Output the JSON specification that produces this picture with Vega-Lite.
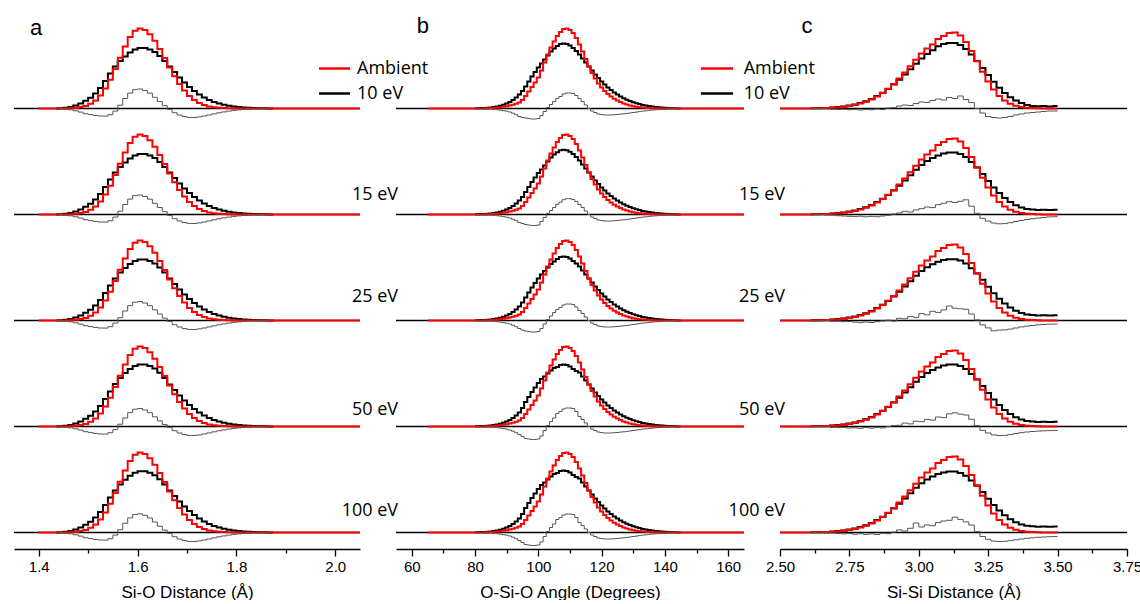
{
"$schema": "https://vega.github.io/schema/vega-lite/v6.json",
"padding": {"left": 13, "top": 14, "right": 0, "bottom": 0},
"background": "white",
"config": {
  "view": {"stroke": null},
  "axis": {"grid": false, "domainColor": "#000", "domainWidth": 1.3, "tickColor": "#000", "tickWidth": 1.3, "labelColor": "#000", "titleColor": "#000", "labelFont": "Liberation Sans", "titleFont": "Liberation Sans", "labelFontSize": 15, "titleFontSize": 17, "titleFontWeight": "normal", "labelPadding": 3, "titlePadding": 10, "labelFlush": false, "labelOverlap": false, "tickSize": 7},
  "text": {"color": "#000"}
},
"datasets": {
"A": [
{"k":"t"},
{"k":"c","x":1.4,"a":0},
{"k":"c","x":1.435,"a":0,"e10":0.1,"e15":0.1,"e25":0.1,"e50":0.1,"e100":0.1},
{"k":"c","x":1.445,"a":0,"e10":0.3,"e15":0.3,"e25":0.3,"e50":0.3,"e100":0.3},
{"k":"c","x":1.455,"a":0.1,"e10":0.8,"e15":0.8,"e25":0.8,"e50":0.8,"e100":0.8},
{"k":"c","x":1.465,"a":0.3,"e10":1.6,"e15":1.6,"e25":1.6,"e50":1.6,"e100":1.6},
{"k":"c","x":1.475,"a":0.7,"e10":3,"e15":3,"e25":3,"e50":3,"e100":3},
{"k":"c","x":1.485,"a":1.4,"e10":5,"e15":5,"e25":5,"e50":5,"e100":5},
{"k":"c","x":1.495,"a":2.6,"e10":7.8,"e15":7.8,"e25":7.8,"e50":7.8,"e100":7.8},
{"k":"c","x":1.505,"a":4.7,"e10":10.8,"e15":10.8,"e25":10.8,"e50":10.8,"e100":10.8},
{"k":"c","x":1.515,"a":8.1,"e10":15,"e15":15,"e25":15,"e50":15,"e100":15},
{"k":"c","x":1.525,"a":13,"e10":20.5,"e15":20.5,"e25":20.5,"e50":20.5,"e100":20.5},
{"k":"c","x":1.535,"a":19.9,"e10":27.5,"e15":27.5,"e25":27.5,"e50":27.5,"e100":27.5},
{"k":"c","x":1.545,"a":28.8,"e10":35,"e15":35,"e25":35,"e50":35,"e100":35},
{"k":"c","x":1.555,"a":39.4,"e10":42,"e15":42,"e25":42,"e50":42.5,"e100":42},
{"k":"c","x":1.565,"a":50.8,"e10":47.5,"e15":47.5,"e25":48,"e50":48.5,"e100":48},
{"k":"c","x":1.575,"a":62,"e10":52,"e15":52,"e25":52.5,"e50":53.5,"e100":52.8},
{"k":"c","x":1.585,"a":71.4,"e10":56,"e15":56,"e25":56.5,"e50":57.5,"e100":56.8},
{"k":"c","x":1.595,"a":77.8,"e10":59,"e15":59,"e25":59.5,"e50":60.5,"e100":59.8},
{"k":"c","x":1.605,"a":80,"e10":60.5,"e15":60.5,"e25":61,"e50":62,"e100":61.3},
{"k":"c","x":1.615,"a":78.5,"e10":60.5,"e15":60.5,"e25":61,"e50":62,"e100":61.3},
{"k":"c","x":1.625,"a":74.3,"e10":59,"e15":59,"e25":59.5,"e50":60.5,"e100":59.8},
{"k":"c","x":1.635,"a":67.7,"e10":56.5,"e15":56.5,"e25":57,"e50":58,"e100":57.2},
{"k":"c","x":1.645,"a":59.5,"e10":52.5,"e15":52.5,"e25":53,"e50":53.8,"e100":53.2},
{"k":"c","x":1.655,"a":50.4,"e10":47.5,"e15":47.5,"e25":48,"e50":48.5,"e100":48},
{"k":"c","x":1.665,"a":41.1,"e10":42,"e15":42,"e25":42,"e50":42,"e100":42},
{"k":"c","x":1.675,"a":32.3,"e10":36.5,"e15":36.5,"e25":36.5,"e50":36.5,"e100":36.5},
{"k":"c","x":1.685,"a":24.5,"e10":31,"e15":31,"e25":31,"e50":31,"e100":31},
{"k":"c","x":1.695,"a":17.9,"e10":26,"e15":26,"e25":26,"e50":26,"e100":26},
{"k":"c","x":1.705,"a":12.6,"e10":21.5,"e15":21.5,"e25":21.5,"e50":21.5,"e100":21.5},
{"k":"c","x":1.715,"a":8.5,"e10":17.5,"e15":17.5,"e25":17.5,"e50":17.5,"e100":17.5},
{"k":"c","x":1.725,"a":5.6,"e10":14,"e15":14,"e25":14,"e50":14,"e100":14},
{"k":"c","x":1.735,"a":3.5,"e10":11,"e15":11,"e25":11,"e50":11,"e100":11},
{"k":"c","x":1.745,"a":2.1,"e10":8.5,"e15":8.5,"e25":8.5,"e50":8.5,"e100":8.5},
{"k":"c","x":1.755,"a":1.2,"e10":6.5,"e15":6.5,"e25":6.5,"e50":6.5,"e100":6.5},
{"k":"c","x":1.765,"a":0.7,"e10":5,"e15":5,"e25":5,"e50":5,"e100":5},
{"k":"c","x":1.775,"a":0.4,"e10":3.8,"e15":3.8,"e25":3.8,"e50":3.8,"e100":3.8},
{"k":"c","x":1.785,"a":0.2,"e10":2.8,"e15":2.8,"e25":2.8,"e50":2.8,"e100":2.8},
{"k":"c","x":1.795,"a":0.1,"e10":2,"e15":2,"e25":2,"e50":2,"e100":2},
{"k":"c","x":1.805,"a":0,"e10":1.4,"e15":1.4,"e25":1.4,"e50":1.4,"e100":1.4},
{"k":"c","x":1.815,"a":0,"e10":1,"e15":1,"e25":1,"e50":1,"e100":1},
{"k":"c","x":1.825,"a":0,"e10":0.7,"e15":0.7,"e25":0.7,"e50":0.7,"e100":0.7},
{"k":"c","x":1.835,"a":0,"e10":0.5,"e15":0.5,"e25":0.5,"e50":0.5,"e100":0.5},
{"k":"c","x":1.845,"a":0,"e10":0.3,"e15":0.3,"e25":0.3,"e50":0.3,"e100":0.3},
{"k":"c","x":1.855,"a":0,"e10":0.2,"e15":0.2,"e25":0.2,"e50":0.2,"e100":0.2},
{"k":"c","x":1.865,"a":0,"e10":0.1,"e15":0.1,"e25":0.1,"e50":0.1,"e100":0.1},
{"k":"c","x":1.875,"a":0,"e10":0,"e15":0,"e25":0,"e50":0,"e100":0},
{"k":"c","x":2.05,"a":0},
{"k":"d","x":1.435,"e10":-0.1,"e15":-0.1,"e25":-0.1,"e50":-0.1,"e100":-0.1},
{"k":"d","x":1.445,"e10":-0.3,"e15":-0.3,"e25":-0.3,"e50":-0.3,"e100":-0.3},
{"k":"d","x":1.455,"e10":-0.7,"e15":-0.7,"e25":-0.7,"e50":-0.7,"e100":-0.7},
{"k":"d","x":1.465,"e10":-1.3,"e15":-1.3,"e25":-1.3,"e50":-1.3,"e100":-1.3},
{"k":"d","x":1.475,"e10":-2.3,"e15":-2.3,"e25":-2.3,"e50":-2.3,"e100":-2.3},
{"k":"d","x":1.485,"e10":-3.6,"e15":-3.6,"e25":-3.6,"e50":-3.6,"e100":-3.6},
{"k":"d","x":1.495,"e10":-5.2,"e15":-5.2,"e25":-5.2,"e50":-5.2,"e100":-5.2},
{"k":"d","x":1.505,"e10":-6.1,"e15":-6.1,"e25":-6.1,"e50":-6.1,"e100":-6.1},
{"k":"d","x":1.515,"e10":-6.9,"e15":-6.9,"e25":-6.9,"e50":-6.9,"e100":-6.9},
{"k":"d","x":1.525,"e10":-7.5,"e15":-7.5,"e25":-7.5,"e50":-7.5,"e100":-7.5},
{"k":"d","x":1.535,"e10":-7.6,"e15":-7.6,"e25":-7.6,"e50":-7.6,"e100":-7.6},
{"k":"d","x":1.545,"e10":-6.2,"e15":-6.2,"e25":-6.2,"e50":-6.2,"e100":-6.2},
{"k":"d","x":1.555,"e10":-2.6,"e15":-2.6,"e25":-2.6,"e50":-3.1,"e100":-2.6},
{"k":"d","x":1.565,"e10":3.3,"e15":3.3,"e25":2.8,"e50":2.3,"e100":2.8},
{"k":"d","x":1.575,"e10":10,"e15":10,"e25":9.5,"e50":8.5,"e100":9.2},
{"k":"d","x":1.585,"e10":15.4,"e15":15.4,"e25":14.9,"e50":13.9,"e100":14.6},
{"k":"d","x":1.595,"e10":18.8,"e15":18.8,"e25":18.3,"e50":17.3,"e100":18},
{"k":"d","x":1.605,"e10":19.5,"e15":19.5,"e25":19,"e50":18,"e100":18.7},
{"k":"d","x":1.615,"e10":18,"e15":18,"e25":17.5,"e50":16.5,"e100":17.2},
{"k":"d","x":1.625,"e10":15.3,"e15":15.3,"e25":14.8,"e50":13.8,"e100":14.5},
{"k":"d","x":1.635,"e10":11.2,"e15":11.2,"e25":10.7,"e50":9.7,"e100":10.5},
{"k":"d","x":1.645,"e10":7,"e15":7,"e25":6.5,"e50":5.7,"e100":6.3},
{"k":"d","x":1.655,"e10":2.9,"e15":2.9,"e25":2.4,"e50":1.9,"e100":2.4},
{"k":"d","x":1.665,"e10":-0.9,"e15":-0.9,"e25":-0.9,"e50":-0.9,"e100":-0.9},
{"k":"d","x":1.675,"e10":-4.2,"e15":-4.2,"e25":-4.2,"e50":-4.2,"e100":-4.2},
{"k":"d","x":1.685,"e10":-6.5,"e15":-6.5,"e25":-6.5,"e50":-6.5,"e100":-6.5},
{"k":"d","x":1.695,"e10":-8.1,"e15":-8.1,"e25":-8.1,"e50":-8.1,"e100":-8.1},
{"k":"d","x":1.705,"e10":-8.9,"e15":-8.9,"e25":-8.9,"e50":-8.9,"e100":-8.9},
{"k":"d","x":1.715,"e10":-9,"e15":-9,"e25":-9,"e50":-9,"e100":-9},
{"k":"d","x":1.725,"e10":-8.4,"e15":-8.4,"e25":-8.4,"e50":-8.4,"e100":-8.4},
{"k":"d","x":1.735,"e10":-7.5,"e15":-7.5,"e25":-7.5,"e50":-7.5,"e100":-7.5},
{"k":"d","x":1.745,"e10":-6.4,"e15":-6.4,"e25":-6.4,"e50":-6.4,"e100":-6.4},
{"k":"d","x":1.755,"e10":-5.3,"e15":-5.3,"e25":-5.3,"e50":-5.3,"e100":-5.3},
{"k":"d","x":1.765,"e10":-4.3,"e15":-4.3,"e25":-4.3,"e50":-4.3,"e100":-4.3},
{"k":"d","x":1.775,"e10":-3.4,"e15":-3.4,"e25":-3.4,"e50":-3.4,"e100":-3.4},
{"k":"d","x":1.785,"e10":-2.6,"e15":-2.6,"e25":-2.6,"e50":-2.6,"e100":-2.6},
{"k":"d","x":1.795,"e10":-1.9,"e15":-1.9,"e25":-1.9,"e50":-1.9,"e100":-1.9},
{"k":"d","x":1.805,"e10":-1.4,"e15":-1.4,"e25":-1.4,"e50":-1.4,"e100":-1.4},
{"k":"d","x":1.815,"e10":-1,"e15":-1,"e25":-1,"e50":-1,"e100":-1},
{"k":"d","x":1.825,"e10":-0.7,"e15":-0.7,"e25":-0.7,"e50":-0.7,"e100":-0.7},
{"k":"d","x":1.835,"e10":-0.5,"e15":-0.5,"e25":-0.5,"e50":-0.5,"e100":-0.5},
{"k":"d","x":1.845,"e10":-0.3,"e15":-0.3,"e25":-0.3,"e50":-0.3,"e100":-0.3},
{"k":"d","x":1.855,"e10":-0.2,"e15":-0.2,"e25":-0.2,"e50":-0.2,"e100":-0.2},
{"k":"d","x":1.865,"e10":-0.1,"e15":-0.1,"e25":-0.1,"e50":-0.1,"e100":-0.1}
],
"B": [
{"k":"t"},
{"k":"c","x":65,"a":0},
{"k":"c","x":80,"a":0,"e10":0.2,"e15":0.2,"e25":0.2,"e50":0.2,"e100":0.2},
{"k":"c","x":81,"a":0,"e10":0.3,"e15":0.3,"e25":0.3,"e50":0.3,"e100":0.3},
{"k":"c","x":82,"a":0,"e10":0.4,"e15":0.4,"e25":0.4,"e50":0.4,"e100":0.4},
{"k":"c","x":83,"a":0.1,"e10":0.6,"e15":0.6,"e25":0.6,"e50":0.6,"e100":0.6},
{"k":"c","x":84,"a":0.2,"e10":0.8,"e15":0.8,"e25":0.8,"e50":0.8,"e100":0.8},
{"k":"c","x":85,"a":0.3,"e10":1,"e15":1,"e25":1,"e50":1,"e100":1},
{"k":"c","x":86,"a":0.5,"e10":1.4,"e15":1.4,"e25":1.4,"e50":1.4,"e100":1.4},
{"k":"c","x":87,"a":0.8,"e10":2,"e15":2,"e25":2,"e50":2,"e100":2},
{"k":"c","x":88,"a":1.2,"e10":2.8,"e15":2.8,"e25":2.8,"e50":2.8,"e100":2.8},
{"k":"c","x":89,"a":1.7,"e10":3.8,"e15":3.8,"e25":3.8,"e50":3.8,"e100":3.8},
{"k":"c","x":90,"a":2.3,"e10":5,"e15":5,"e25":5,"e50":5,"e100":5},
{"k":"c","x":91,"a":3,"e10":6.5,"e15":6.5,"e25":6.5,"e50":6.5,"e100":6.5},
{"k":"c","x":92,"a":3.8,"e10":8.5,"e15":8.5,"e25":8.5,"e50":8.5,"e100":8.5},
{"k":"c","x":93,"a":4.8,"e10":11,"e15":11,"e25":11,"e50":11,"e100":11},
{"k":"c","x":94,"a":6,"e10":14,"e15":14,"e25":14,"e50":14,"e100":14},
{"k":"c","x":95,"a":8.5,"e10":17.5,"e15":17.5,"e25":18,"e50":18.5,"e100":18.5},
{"k":"c","x":96,"a":12.5,"e10":22,"e15":22.5,"e25":23,"e50":24.5,"e100":24.5},
{"k":"c","x":97,"a":17,"e10":27,"e15":27.5,"e25":28,"e50":29.5,"e100":29.5},
{"k":"c","x":98,"a":21.5,"e10":32,"e15":32.5,"e25":33,"e50":34.5,"e100":34.5},
{"k":"c","x":99,"a":26,"e10":36.5,"e15":37,"e25":37.5,"e50":39,"e100":39},
{"k":"c","x":100,"a":31,"e10":41,"e15":41.5,"e25":42,"e50":43.5,"e100":43.5},
{"k":"c","x":101,"a":38,"e10":45,"e15":45,"e25":46,"e50":47.5,"e100":47.5},
{"k":"c","x":102,"a":46,"e10":49,"e15":49,"e25":49.5,"e50":50,"e100":50},
{"k":"c","x":103,"a":54,"e10":53,"e15":53,"e25":53,"e50":53,"e100":53},
{"k":"c","x":104,"a":61,"e10":57,"e15":57,"e25":56.5,"e50":56,"e100":56},
{"k":"c","x":105,"a":67,"e10":60,"e15":60,"e25":59,"e50":58.5,"e100":58.5},
{"k":"c","x":106,"a":72.5,"e10":62.5,"e15":62.3,"e25":61.5,"e50":59.5,"e100":59.5},
{"k":"c","x":107,"a":76.5,"e10":64.5,"e15":64.2,"e25":63.5,"e50":61.5,"e100":61.5},
{"k":"c","x":108,"a":79.5,"e10":65,"e15":64.7,"e25":64,"e50":62,"e100":62},
{"k":"c","x":109,"a":80,"e10":64.5,"e15":64.2,"e25":63.5,"e50":61.5,"e100":61.5},
{"k":"c","x":110,"a":78.5,"e10":63,"e15":62.7,"e25":62,"e50":60,"e100":60},
{"k":"c","x":111,"a":75.5,"e10":60.5,"e15":60.5,"e25":59.5,"e50":57.5,"e100":57.5},
{"k":"c","x":112,"a":70.5,"e10":57.5,"e15":57.5,"e25":57,"e50":55.5,"e100":55.5},
{"k":"c","x":113,"a":64,"e10":54,"e15":54,"e25":54,"e50":54,"e100":54},
{"k":"c","x":114,"a":57,"e10":50,"e15":50,"e25":50,"e50":50,"e100":50},
{"k":"c","x":115,"a":49.5,"e10":46,"e15":46,"e25":46,"e50":46,"e100":46},
{"k":"c","x":116,"a":42,"e10":42,"e15":42,"e25":42,"e50":42,"e100":42},
{"k":"c","x":117,"a":35.5,"e10":38,"e15":38,"e25":38,"e50":38,"e100":38},
{"k":"c","x":118,"a":30,"e10":34,"e15":34,"e25":34,"e50":34,"e100":34},
{"k":"c","x":119,"a":25,"e10":30.5,"e15":30.5,"e25":30.5,"e50":30.5,"e100":30.5},
{"k":"c","x":120,"a":21,"e10":27,"e15":27,"e25":27,"e50":27,"e100":27},
{"k":"c","x":121,"a":17.5,"e10":24,"e15":24,"e25":24,"e50":24,"e100":24},
{"k":"c","x":122,"a":14.5,"e10":21,"e15":21,"e25":21,"e50":21,"e100":21},
{"k":"c","x":123,"a":12,"e10":18.5,"e15":18.5,"e25":18.5,"e50":18.5,"e100":18.5},
{"k":"c","x":124,"a":9.8,"e10":16,"e15":16,"e25":16,"e50":16,"e100":16},
{"k":"c","x":125,"a":8,"e10":14,"e15":14,"e25":14,"e50":14,"e100":14},
{"k":"c","x":126,"a":6.4,"e10":12,"e15":12,"e25":12,"e50":12,"e100":12},
{"k":"c","x":127,"a":5,"e10":10.3,"e15":10.3,"e25":10.3,"e50":10.3,"e100":10.3},
{"k":"c","x":128,"a":3.9,"e10":8.8,"e15":8.8,"e25":8.8,"e50":8.8,"e100":8.8},
{"k":"c","x":129,"a":3,"e10":7.5,"e15":7.5,"e25":7.5,"e50":7.5,"e100":7.5},
{"k":"c","x":130,"a":2.3,"e10":6.3,"e15":6.3,"e25":6.3,"e50":6.3,"e100":6.3},
{"k":"c","x":131,"a":1.7,"e10":5.3,"e15":5.3,"e25":5.3,"e50":5.3,"e100":5.3},
{"k":"c","x":132,"a":1.3,"e10":4.4,"e15":4.4,"e25":4.4,"e50":4.4,"e100":4.4},
{"k":"c","x":133,"a":1,"e10":3.6,"e15":3.6,"e25":3.6,"e50":3.6,"e100":3.6},
{"k":"c","x":134,"a":0.7,"e10":3,"e15":3,"e25":3,"e50":3,"e100":3},
{"k":"c","x":135,"a":0.5,"e10":2.4,"e15":2.4,"e25":2.4,"e50":2.4,"e100":2.4},
{"k":"c","x":136,"a":0.3,"e10":1.9,"e15":1.9,"e25":1.9,"e50":1.9,"e100":1.9},
{"k":"c","x":137,"a":0.2,"e10":1.5,"e15":1.5,"e25":1.5,"e50":1.5,"e100":1.5},
{"k":"c","x":138,"a":0.1,"e10":1.2,"e15":1.2,"e25":1.2,"e50":1.2,"e100":1.2},
{"k":"c","x":139,"a":0,"e10":0.9,"e15":0.9,"e25":0.9,"e50":0.9,"e100":0.9},
{"k":"c","x":140,"a":0,"e10":0.7,"e15":0.7,"e25":0.7,"e50":0.7,"e100":0.7},
{"k":"c","x":141,"a":0,"e10":0.5,"e15":0.5,"e25":0.5,"e50":0.5,"e100":0.5},
{"k":"c","x":142,"a":0,"e10":0.3,"e15":0.3,"e25":0.3,"e50":0.3,"e100":0.3},
{"k":"c","x":143,"a":0,"e10":0.2,"e15":0.2,"e25":0.2,"e50":0.2,"e100":0.2},
{"k":"c","x":144,"a":0,"e10":0.1,"e15":0.1,"e25":0.1,"e50":0.1,"e100":0.1},
{"k":"c","x":145,"a":0,"e10":0,"e15":0,"e25":0,"e50":0,"e100":0},
{"k":"c","x":165,"a":0},
{"k":"d","x":80,"e10":-0.2,"e15":-0.2,"e25":-0.2,"e50":-0.2,"e100":-0.2},
{"k":"d","x":81,"e10":-0.3,"e15":-0.3,"e25":-0.3,"e50":-0.3,"e100":-0.3},
{"k":"d","x":82,"e10":-0.4,"e15":-0.4,"e25":-0.4,"e50":-0.4,"e100":-0.4},
{"k":"d","x":83,"e10":-0.5,"e15":-0.5,"e25":-0.5,"e50":-0.5,"e100":-0.5},
{"k":"d","x":84,"e10":-0.6,"e15":-0.6,"e25":-0.6,"e50":-0.6,"e100":-0.6},
{"k":"d","x":85,"e10":-0.7,"e15":-0.7,"e25":-0.7,"e50":-0.7,"e100":-0.7},
{"k":"d","x":86,"e10":-0.9,"e15":-0.9,"e25":-0.9,"e50":-0.9,"e100":-0.9},
{"k":"d","x":87,"e10":-1.2,"e15":-1.2,"e25":-1.2,"e50":-1.2,"e100":-1.2},
{"k":"d","x":88,"e10":-1.6,"e15":-1.6,"e25":-1.6,"e50":-1.6,"e100":-1.6},
{"k":"d","x":89,"e10":-2.1,"e15":-2.1,"e25":-2.1,"e50":-2.1,"e100":-2.1},
{"k":"d","x":90,"e10":-2.7,"e15":-2.7,"e25":-2.7,"e50":-2.7,"e100":-2.7},
{"k":"d","x":91,"e10":-3.5,"e15":-3.5,"e25":-3.5,"e50":-3.5,"e100":-3.5},
{"k":"d","x":92,"e10":-4.7,"e15":-4.7,"e25":-4.7,"e50":-4.7,"e100":-4.7},
{"k":"d","x":93,"e10":-6.2,"e15":-6.2,"e25":-6.2,"e50":-6.2,"e100":-6.2},
{"k":"d","x":94,"e10":-8,"e15":-8,"e25":-8,"e50":-8,"e100":-8},
{"k":"d","x":95,"e10":-9,"e15":-9,"e25":-9.5,"e50":-10,"e100":-10},
{"k":"d","x":96,"e10":-9.5,"e15":-10,"e25":-10.5,"e50":-12,"e100":-12},
{"k":"d","x":97,"e10":-10,"e15":-10.5,"e25":-11,"e50":-12.5,"e100":-12.5},
{"k":"d","x":98,"e10":-10.5,"e15":-11,"e25":-11.5,"e50":-13,"e100":-13},
{"k":"d","x":99,"e10":-10.5,"e15":-11,"e25":-11.5,"e50":-13,"e100":-13},
{"k":"d","x":100,"e10":-10,"e15":-10.5,"e25":-11,"e50":-12.5,"e100":-12.5},
{"k":"d","x":101,"e10":-7,"e15":-7,"e25":-8,"e50":-9.5,"e100":-9.5},
{"k":"d","x":102,"e10":-3,"e15":-3,"e25":-3.5,"e50":-4,"e100":-4},
{"k":"d","x":103,"e10":1,"e15":1,"e25":1,"e50":1,"e100":1},
{"k":"d","x":104,"e10":4,"e15":4,"e25":4.5,"e50":5,"e100":5},
{"k":"d","x":105,"e10":7,"e15":7,"e25":8,"e50":8.5,"e100":8.5},
{"k":"d","x":106,"e10":10,"e15":10.2,"e25":11,"e50":13,"e100":13},
{"k":"d","x":107,"e10":12,"e15":12.3,"e25":13,"e50":15,"e100":15},
{"k":"d","x":108,"e10":14.5,"e15":14.8,"e25":15.5,"e50":17.5,"e100":17.5},
{"k":"d","x":109,"e10":15.5,"e15":15.8,"e25":16.5,"e50":18.5,"e100":18.5},
{"k":"d","x":110,"e10":15.5,"e15":15.8,"e25":16.5,"e50":18.5,"e100":18.5},
{"k":"d","x":111,"e10":15,"e15":15,"e25":16,"e50":18,"e100":18},
{"k":"d","x":112,"e10":13,"e15":13,"e25":13.5,"e50":15,"e100":15},
{"k":"d","x":113,"e10":10,"e15":10,"e25":10,"e50":10,"e100":10},
{"k":"d","x":114,"e10":7,"e15":7,"e25":7,"e50":7,"e100":7},
{"k":"d","x":115,"e10":3.5,"e15":3.5,"e25":3.5,"e50":3.5,"e100":3.5},
{"k":"d","x":116,"e10":0,"e15":0,"e25":0,"e50":0,"e100":0},
{"k":"d","x":117,"e10":-2.5,"e15":-2.5,"e25":-2.5,"e50":-2.5,"e100":-2.5},
{"k":"d","x":118,"e10":-4,"e15":-4,"e25":-4,"e50":-4,"e100":-4},
{"k":"d","x":119,"e10":-5.5,"e15":-5.5,"e25":-5.5,"e50":-5.5,"e100":-5.5},
{"k":"d","x":120,"e10":-6,"e15":-6,"e25":-6,"e50":-6,"e100":-6},
{"k":"d","x":121,"e10":-6.5,"e15":-6.5,"e25":-6.5,"e50":-6.5,"e100":-6.5},
{"k":"d","x":122,"e10":-6.5,"e15":-6.5,"e25":-6.5,"e50":-6.5,"e100":-6.5},
{"k":"d","x":123,"e10":-6.5,"e15":-6.5,"e25":-6.5,"e50":-6.5,"e100":-6.5},
{"k":"d","x":124,"e10":-6.2,"e15":-6.2,"e25":-6.2,"e50":-6.2,"e100":-6.2},
{"k":"d","x":125,"e10":-6,"e15":-6,"e25":-6,"e50":-6,"e100":-6},
{"k":"d","x":126,"e10":-5.6,"e15":-5.6,"e25":-5.6,"e50":-5.6,"e100":-5.6},
{"k":"d","x":127,"e10":-5.3,"e15":-5.3,"e25":-5.3,"e50":-5.3,"e100":-5.3},
{"k":"d","x":128,"e10":-4.9,"e15":-4.9,"e25":-4.9,"e50":-4.9,"e100":-4.9},
{"k":"d","x":129,"e10":-4.5,"e15":-4.5,"e25":-4.5,"e50":-4.5,"e100":-4.5},
{"k":"d","x":130,"e10":-4,"e15":-4,"e25":-4,"e50":-4,"e100":-4},
{"k":"d","x":131,"e10":-3.6,"e15":-3.6,"e25":-3.6,"e50":-3.6,"e100":-3.6},
{"k":"d","x":132,"e10":-3.1,"e15":-3.1,"e25":-3.1,"e50":-3.1,"e100":-3.1},
{"k":"d","x":133,"e10":-2.6,"e15":-2.6,"e25":-2.6,"e50":-2.6,"e100":-2.6},
{"k":"d","x":134,"e10":-2.3,"e15":-2.3,"e25":-2.3,"e50":-2.3,"e100":-2.3},
{"k":"d","x":135,"e10":-1.9,"e15":-1.9,"e25":-1.9,"e50":-1.9,"e100":-1.9},
{"k":"d","x":136,"e10":-1.6,"e15":-1.6,"e25":-1.6,"e50":-1.6,"e100":-1.6},
{"k":"d","x":137,"e10":-1.3,"e15":-1.3,"e25":-1.3,"e50":-1.3,"e100":-1.3},
{"k":"d","x":138,"e10":-1.1,"e15":-1.1,"e25":-1.1,"e50":-1.1,"e100":-1.1},
{"k":"d","x":139,"e10":-0.9,"e15":-0.9,"e25":-0.9,"e50":-0.9,"e100":-0.9},
{"k":"d","x":140,"e10":-0.7,"e15":-0.7,"e25":-0.7,"e50":-0.7,"e100":-0.7},
{"k":"d","x":141,"e10":-0.5,"e15":-0.5,"e25":-0.5,"e50":-0.5,"e100":-0.5},
{"k":"d","x":142,"e10":-0.3,"e15":-0.3,"e25":-0.3,"e50":-0.3,"e100":-0.3},
{"k":"d","x":143,"e10":-0.2,"e15":-0.2,"e25":-0.2,"e50":-0.2,"e100":-0.2},
{"k":"d","x":144,"e10":-0.1,"e15":-0.1,"e25":-0.1,"e50":-0.1,"e100":-0.1}
],
"C": [
{"k":"t"},
{"k":"c","x":2.5,"a":0},
{"k":"c","x":2.61,"a":0.1,"e10":0.2,"e15":0.2,"e25":0.2,"e50":0.2,"e100":0.2},
{"k":"c","x":2.63,"a":0.2,"e10":0.3,"e15":0.3,"e25":0.3,"e50":0.3,"e100":0.3},
{"k":"c","x":2.65,"a":0.3,"e10":0.4,"e15":0.4,"e25":0.4,"e50":0.4,"e100":0.4},
{"k":"c","x":2.67,"a":0.5,"e10":0.6,"e15":0.6,"e25":0.6,"e50":0.6,"e100":0.6},
{"k":"c","x":2.69,"a":0.7,"e10":1,"e15":1,"e25":1,"e50":1,"e100":1},
{"k":"c","x":2.71,"a":1.1,"e10":1.4,"e15":1.4,"e25":1.4,"e50":1.4,"e100":1.4},
{"k":"c","x":2.73,"a":1.7,"e10":2,"e15":2,"e25":2,"e50":2,"e100":2},
{"k":"c","x":2.75,"a":2.4,"e10":2.9,"e15":2.9,"e25":2.9,"e50":2.9,"e100":2.9},
{"k":"c","x":2.77,"a":3.5,"e10":4,"e15":4,"e25":4,"e50":4,"e100":4},
{"k":"c","x":2.79,"a":4.9,"e10":5.5,"e15":5.5,"e25":5.5,"e50":5.5,"e100":5.5},
{"k":"c","x":2.81,"a":6.7,"e10":7.3,"e15":7.3,"e25":7.3,"e50":7.3,"e100":7.3},
{"k":"c","x":2.83,"a":9,"e10":9.6,"e15":9.6,"e25":9.6,"e50":9.6,"e100":9.6},
{"k":"c","x":2.85,"a":12,"e10":12.5,"e15":12.5,"e25":12.5,"e50":12.5,"e100":12.5},
{"k":"c","x":2.87,"a":15.5,"e10":15.8,"e15":15.8,"e25":15.8,"e50":15.8,"e100":15.8},
{"k":"c","x":2.89,"a":19.7,"e10":19.6,"e15":19.6,"e25":19.6,"e50":19.6,"e100":19.6},
{"k":"c","x":2.91,"a":24.6,"e10":24,"e15":24,"e25":24,"e50":24,"e100":24},
{"k":"c","x":2.93,"a":30,"e10":28.8,"e15":28.8,"e25":28.8,"e50":28.8,"e100":28.8},
{"k":"c","x":2.95,"a":36,"e10":34,"e15":34,"e25":34,"e50":34,"e100":34},
{"k":"c","x":2.97,"a":42.3,"e10":39.3,"e15":39.3,"e25":39.3,"e50":39.3,"e100":39.3},
{"k":"c","x":2.99,"a":48.7,"e10":44.7,"e15":44.7,"e25":44.7,"e50":44.7,"e100":44.7},
{"k":"c","x":3.01,"a":55,"e10":49.9,"e15":49.5,"e25":49.5,"e50":49.5,"e100":49.3},
{"k":"c","x":3.03,"a":60,"e10":54.6,"e15":53.5,"e25":53.3,"e50":53.5,"e100":53},
{"k":"c","x":3.05,"a":64,"e10":58.2,"e15":56.5,"e25":56.3,"e50":56.5,"e100":56},
{"k":"c","x":3.07,"a":69.5,"e10":62.3,"e15":59,"e25":58.8,"e50":59,"e100":58.5},
{"k":"c","x":3.09,"a":72.5,"e10":64.4,"e15":61,"e25":60.5,"e50":61,"e100":60},
{"k":"c","x":3.11,"a":75.6,"e10":65.5,"e15":62,"e25":61.3,"e50":62,"e100":61},
{"k":"c","x":3.13,"a":76,"e10":65.4,"e15":62,"e25":61.3,"e50":62,"e100":61},
{"k":"c","x":3.15,"a":73,"e10":63.4,"e15":60.5,"e25":60,"e50":60.5,"e100":59.5},
{"k":"c","x":3.17,"a":66.5,"e10":59.5,"e15":57.5,"e25":57,"e50":57.5,"e100":56.8},
{"k":"c","x":3.19,"a":57.5,"e10":54,"e15":52.5,"e25":52.3,"e50":52.5,"e100":52},
{"k":"c","x":3.21,"a":47.2,"e10":47.6,"e15":47,"e25":47,"e50":47,"e100":46.8},
{"k":"c","x":3.23,"a":36.7,"e10":40.6,"e15":40.5,"e25":40.7,"e50":40.5,"e100":40.6},
{"k":"c","x":3.25,"a":27,"e10":33.5,"e15":33.5,"e25":33.8,"e50":33.5,"e100":33.8},
{"k":"c","x":3.27,"a":18.9,"e10":26.8,"e15":27,"e25":27.3,"e50":27,"e100":27.4},
{"k":"c","x":3.29,"a":12.6,"e10":20.8,"e15":21.5,"e25":21.8,"e50":21.5,"e100":22},
{"k":"c","x":3.31,"a":7.9,"e10":15.6,"e15":16.5,"e25":16.9,"e50":16.5,"e100":17.2},
{"k":"c","x":3.33,"a":4.7,"e10":11.3,"e15":12.5,"e25":12.9,"e50":12.5,"e100":13.3},
{"k":"c","x":3.35,"a":2.7,"e10":8,"e15":9.3,"e25":9.8,"e50":9.3,"e100":10.3},
{"k":"c","x":3.37,"a":1.4,"e10":5.4,"e15":7,"e25":7.5,"e50":7,"e100":8.1},
{"k":"c","x":3.39,"a":0.7,"e10":3.6,"e15":5.6,"e25":6.1,"e50":5.6,"e100":6.8},
{"k":"c","x":3.41,"a":0.4,"e10":2.6,"e15":5,"e25":5.5,"e50":5,"e100":6.2},
{"k":"c","x":3.43,"a":0.2,"e10":2.2,"e15":4.6,"e25":5.1,"e50":4.6,"e100":5.8},
{"k":"c","x":3.45,"a":0.1,"e10":2.4,"e15":4.7,"e25":5.2,"e50":4.7,"e100":5.9},
{"k":"c","x":3.47,"a":0.1,"e10":2,"e15":4.5,"e25":5,"e50":4.5,"e100":5.7},
{"k":"c","x":3.5,"a":0.1,"e10":2.4,"e15":4.8,"e25":5.3,"e50":4.7,"e100":6},
{"k":"d","x":2.61,"e10":0,"e15":0,"e25":0,"e50":0,"e100":0},
{"k":"d","x":2.63,"e10":0,"e15":0,"e25":-0.3,"e50":0,"e100":0},
{"k":"d","x":2.65,"e10":-0.3,"e15":-0.2,"e25":-0.4,"e50":-0.3,"e100":-0.5},
{"k":"d","x":2.67,"e10":-0.5,"e15":-0.6,"e25":-0.3,"e50":-0.4,"e100":-0.8},
{"k":"d","x":2.69,"e10":-0.8,"e15":-0.7,"e25":-0.9,"e50":-1,"e100":-0.6},
{"k":"d","x":2.71,"e10":-1,"e15":-1.2,"e25":-0.8,"e50":-1.1,"e100":-1},
{"k":"d","x":2.73,"e10":-0.8,"e15":-1.5,"e25":-1.2,"e50":-0.9,"e100":-1.4},
{"k":"d","x":2.75,"e10":-1.2,"e15":-1.8,"e25":-1,"e50":-1.5,"e100":-1.1},
{"k":"d","x":2.77,"e10":-0.9,"e15":-2.1,"e25":-1.6,"e50":-1.3,"e100":-1.7},
{"k":"d","x":2.79,"e10":-1.5,"e15":-1.7,"e25":-2.2,"e50":-1.8,"e100":-1.2},
{"k":"d","x":2.81,"e10":-1,"e15":-2.3,"e25":-1.5,"e50":-1,"e100":-1.9},
{"k":"d","x":2.83,"e10":-1.3,"e15":-1.9,"e25":-2,"e50":-1.6,"e100":-1.4},
{"k":"d","x":2.85,"e10":-0.6,"e15":-2.2,"e25":-1.2,"e50":-0.8,"e100":-2},
{"k":"d","x":2.87,"e10":-1,"e15":-1.5,"e25":-0.5,"e50":-1.4,"e100":-0.8},
{"k":"d","x":2.89,"e10":0.5,"e15":-0.8,"e25":0.3,"e50":-0.2,"e100":-1.2},
{"k":"d","x":2.91,"e10":0.8,"e15":0.5,"e25":-0.6,"e50":0.9,"e100":0.4},
{"k":"d","x":2.93,"e10":2.5,"e15":1.5,"e25":2.2,"e50":1.2,"e100":2.6},
{"k":"d","x":2.95,"e10":3.5,"e15":3.2,"e25":1.8,"e50":3.4,"e100":1.5},
{"k":"d","x":2.97,"e10":3,"e15":2.5,"e25":3.9,"e50":2.6,"e100":4.2},
{"k":"d","x":2.99,"e10":5,"e15":4.6,"e25":3.1,"e50":5.3,"e100":9.5},
{"k":"d","x":3.01,"e10":6.5,"e15":5.8,"e25":6.9,"e50":4.8,"e100":5.5},
{"k":"d","x":3.03,"e10":6,"e15":7.5,"e25":5.7,"e50":7.1,"e100":7.6},
{"k":"d","x":3.05,"e10":8,"e15":6.9,"e25":9.2,"e50":6.4,"e100":6.8},
{"k":"d","x":3.07,"e10":9.5,"e15":9.8,"e25":8.1,"e50":9.5,"e100":9.9},
{"k":"d","x":3.09,"e10":8.5,"e15":11.2,"e25":10.6,"e50":8.9,"e100":11.5},
{"k":"d","x":3.11,"e10":11,"e15":12.8,"e25":14.5,"e50":12.6,"e100":12.2},
{"k":"d","x":3.13,"e10":10,"e15":12,"e25":12.3,"e50":13.7,"e100":15.3},
{"k":"d","x":3.15,"e10":12.5,"e15":13.2,"e25":11.8,"e50":12.4,"e100":13.1},
{"k":"d","x":3.17,"e10":9,"e15":14.7,"e25":11.2,"e50":11.5,"e100":10.6},
{"k":"d","x":3.19,"e10":6,"e15":8.3,"e25":6.5,"e50":7.2,"e100":7.4},
{"k":"d","x":3.21,"e10":0,"e15":1.2,"e25":0.6,"e50":0.8,"e100":0.9},
{"k":"d","x":3.23,"e10":-4.5,"e15":-3.8,"e25":-4.4,"e50":-3.9,"e100":-4},
{"k":"d","x":3.25,"e10":-8,"e15":-6.6,"e25":-7.4,"e50":-6.5,"e100":-6.8},
{"k":"d","x":3.27,"e10":-9,"e15":-8.5,"e25":-10.3,"e50":-8.4,"e100":-8.6},
{"k":"d","x":3.29,"e10":-9.5,"e15":-9.3,"e25":-9.6,"e50":-9,"e100":-9},
{"k":"d","x":3.31,"e10":-9,"e15":-9.1,"e25":-9.3,"e50":-8.9,"e100":-8.8},
{"k":"d","x":3.33,"e10":-8,"e15":-8.2,"e25":-8.6,"e50":-8.1,"e100":-8.2},
{"k":"d","x":3.35,"e10":-6.5,"e15":-7,"e25":-7.5,"e50":-7,"e100":-7.3},
{"k":"d","x":3.37,"e10":-5.5,"e15":-5.9,"e25":-6.4,"e50":-6.2,"e100":-6.5},
{"k":"d","x":3.39,"e10":-4.5,"e15":-5,"e25":-5.6,"e50":-5.5,"e100":-5.8},
{"k":"d","x":3.41,"e10":-4,"e15":-4.2,"e25":-5,"e50":-5,"e100":-5.3},
{"k":"d","x":3.43,"e10":-3.5,"e15":-3.6,"e25":-4.3,"e50":-4.6,"e100":-4.8},
{"k":"d","x":3.45,"e10":-3,"e15":-3,"e25":-4,"e50":-4.3,"e100":-4.5},
{"k":"d","x":3.47,"e10":-2.5,"e15":-2.4,"e25":-3.7,"e50":-4.1,"e100":-4.2},
{"k":"d","x":3.5,"e10":-2.5,"e15":-2.2,"e25":-3.5,"e50":-4,"e100":-4}
]
},
"columns": 3,
"spacing": {"row": 0, "column": 36},
"bounds": "flush",
"resolve": {"scale": {"x": "independent", "y": "independent"}},
"concat": [
{"data": {"name": "A"}, "width": 346, "height": 106, "layer": [
 {"transform": [{"filter": "datum.k == 't'"}], "mark": {"type": "rule", "color": "#000", "strokeWidth": 1.3}, "encoding": {"x": {"datum": 1.35, "type": "quantitative", "scale": {"domain": [1.35, 2.05], "nice": false, "zero": false}, "axis": null}, "x2": {"datum": 2.05}, "y": {"datum": 0, "type": "quantitative", "scale": {"domain": [-16.5, 89.5], "nice": false, "zero": false}, "axis": null}}},
 {"transform": [{"filter": "datum.k == 'c' && isValid(datum.e10)"}], "mark": {"type": "line", "interpolate": "step", "color": "#000", "strokeWidth": 2}, "encoding": {"x": {"field": "x", "type": "quantitative", "scale": {"domain": [1.35, 2.05], "nice": false, "zero": false}, "axis": null}, "y": {"field": "e10", "type": "quantitative", "scale": {"domain": [-16.5, 89.5], "nice": false, "zero": false}, "axis": null}}},
 {"transform": [{"filter": "datum.k == 'c'"}], "mark": {"type": "line", "interpolate": "step", "color": "#ff0000", "strokeWidth": 2}, "encoding": {"x": {"field": "x", "type": "quantitative", "scale": {"domain": [1.35, 2.05], "nice": false, "zero": false}, "axis": null}, "y": {"field": "a", "type": "quantitative", "scale": {"domain": [-16.5, 89.5], "nice": false, "zero": false}, "axis": null}}},
 {"transform": [{"filter": "datum.k == 'd'"}], "mark": {"type": "line", "interpolate": "step", "color": "#555555", "strokeWidth": 1}, "encoding": {"x": {"field": "x", "type": "quantitative", "scale": {"domain": [1.35, 2.05], "nice": false, "zero": false}, "axis": null}, "y": {"field": "e10", "type": "quantitative", "scale": {"domain": [-16.5, 89.5], "nice": false, "zero": false}, "axis": null}}},
 {"transform": [{"filter": "datum.k == 't'"}], "mark": {"type": "text", "text": "a", "font": "Liberation Sans", "fontSize": 22, "align": "center", "baseline": "alphabetic"}, "encoding": {"x": {"datum": 1.395, "type": "quantitative", "scale": {"domain": [1.35, 2.05], "nice": false, "zero": false}, "axis": null}, "y": {"datum": 74, "type": "quantitative", "scale": {"domain": [-16.5, 89.5], "nice": false, "zero": false}, "axis": null}}},
 {"transform": [{"filter": "datum.k == 't'"}], "mark": {"type": "rule", "color": "#ff0000", "strokeWidth": 2.5}, "encoding": {"x": {"datum": 1.967, "type": "quantitative", "scale": {"domain": [1.35, 2.05], "nice": false, "zero": false}, "axis": null}, "x2": {"datum": 2.03}, "y": {"datum": 40, "type": "quantitative", "scale": {"domain": [-16.5, 89.5], "nice": false, "zero": false}, "axis": null}}},
 {"transform": [{"filter": "datum.k == 't'"}], "mark": {"type": "rule", "color": "#000", "strokeWidth": 2.5}, "encoding": {"x": {"datum": 1.967, "type": "quantitative", "scale": {"domain": [1.35, 2.05], "nice": false, "zero": false}, "axis": null}, "x2": {"datum": 2.03}, "y": {"datum": 15, "type": "quantitative", "scale": {"domain": [-16.5, 89.5], "nice": false, "zero": false}, "axis": null}}},
 {"transform": [{"filter": "datum.k == 't'"}], "mark": {"type": "text", "text": "Ambient", "font": "Open Sans", "fontSize": 18, "align": "left", "baseline": "middle"}, "encoding": {"x": {"datum": 2.044, "type": "quantitative", "scale": {"domain": [1.35, 2.05], "nice": false, "zero": false}, "axis": null}, "y": {"datum": 40, "type": "quantitative", "scale": {"domain": [-16.5, 89.5], "nice": false, "zero": false}, "axis": null}}},
 {"transform": [{"filter": "datum.k == 't'"}], "mark": {"type": "text", "text": "10 eV", "font": "Open Sans", "fontSize": 18, "align": "left", "baseline": "middle"}, "encoding": {"x": {"datum": 2.044, "type": "quantitative", "scale": {"domain": [1.35, 2.05], "nice": false, "zero": false}, "axis": null}, "y": {"datum": 15, "type": "quantitative", "scale": {"domain": [-16.5, 89.5], "nice": false, "zero": false}, "axis": null}}}
]},
{"data": {"name": "B"}, "width": 348, "height": 106, "layer": [
 {"transform": [{"filter": "datum.k == 't'"}], "mark": {"type": "rule", "color": "#000", "strokeWidth": 1.3}, "encoding": {"x": {"datum": 55, "type": "quantitative", "scale": {"domain": [55, 165], "nice": false, "zero": false}, "axis": null}, "x2": {"datum": 165}, "y": {"datum": 0, "type": "quantitative", "scale": {"domain": [-16.5, 89.5], "nice": false, "zero": false}, "axis": null}}},
 {"transform": [{"filter": "datum.k == 'c' && isValid(datum.e10)"}], "mark": {"type": "line", "interpolate": "step", "color": "#000", "strokeWidth": 2}, "encoding": {"x": {"field": "x", "type": "quantitative", "scale": {"domain": [55, 165], "nice": false, "zero": false}, "axis": null}, "y": {"field": "e10", "type": "quantitative", "scale": {"domain": [-16.5, 89.5], "nice": false, "zero": false}, "axis": null}}},
 {"transform": [{"filter": "datum.k == 'c'"}], "mark": {"type": "line", "interpolate": "step", "color": "#ff0000", "strokeWidth": 2}, "encoding": {"x": {"field": "x", "type": "quantitative", "scale": {"domain": [55, 165], "nice": false, "zero": false}, "axis": null}, "y": {"field": "a", "type": "quantitative", "scale": {"domain": [-16.5, 89.5], "nice": false, "zero": false}, "axis": null}}},
 {"transform": [{"filter": "datum.k == 'd'"}], "mark": {"type": "line", "interpolate": "step", "color": "#555555", "strokeWidth": 1}, "encoding": {"x": {"field": "x", "type": "quantitative", "scale": {"domain": [55, 165], "nice": false, "zero": false}, "axis": null}, "y": {"field": "e10", "type": "quantitative", "scale": {"domain": [-16.5, 89.5], "nice": false, "zero": false}, "axis": null}}},
 {"transform": [{"filter": "datum.k == 't'"}], "mark": {"type": "text", "text": "b", "font": "Liberation Sans", "fontSize": 22, "align": "center", "baseline": "alphabetic"}, "encoding": {"x": {"datum": 63.5, "type": "quantitative", "scale": {"domain": [55, 165], "nice": false, "zero": false}, "axis": null}, "y": {"datum": 76, "type": "quantitative", "scale": {"domain": [-16.5, 89.5], "nice": false, "zero": false}, "axis": null}}}
]},
{"data": {"name": "C"}, "width": 347, "height": 106, "layer": [
 {"transform": [{"filter": "datum.k == 't'"}], "mark": {"type": "rule", "color": "#000", "strokeWidth": 1.3}, "encoding": {"x": {"datum": 2.5, "type": "quantitative", "scale": {"domain": [2.5, 3.75], "nice": false, "zero": false}, "axis": null}, "x2": {"datum": 3.75}, "y": {"datum": 0, "type": "quantitative", "scale": {"domain": [-16.5, 89.5], "nice": false, "zero": false}, "axis": null}}},
 {"transform": [{"filter": "datum.k == 'c' && isValid(datum.e10)"}], "mark": {"type": "line", "interpolate": "step", "color": "#000", "strokeWidth": 2}, "encoding": {"x": {"field": "x", "type": "quantitative", "scale": {"domain": [2.5, 3.75], "nice": false, "zero": false}, "axis": null}, "y": {"field": "e10", "type": "quantitative", "scale": {"domain": [-16.5, 89.5], "nice": false, "zero": false}, "axis": null}}},
 {"transform": [{"filter": "datum.k == 'c'"}], "mark": {"type": "line", "interpolate": "step", "color": "#ff0000", "strokeWidth": 2}, "encoding": {"x": {"field": "x", "type": "quantitative", "scale": {"domain": [2.5, 3.75], "nice": false, "zero": false}, "axis": null}, "y": {"field": "a", "type": "quantitative", "scale": {"domain": [-16.5, 89.5], "nice": false, "zero": false}, "axis": null}}},
 {"transform": [{"filter": "datum.k == 'd'"}], "mark": {"type": "line", "interpolate": "step", "color": "#555555", "strokeWidth": 1}, "encoding": {"x": {"field": "x", "type": "quantitative", "scale": {"domain": [2.5, 3.75], "nice": false, "zero": false}, "axis": null}, "y": {"field": "e10", "type": "quantitative", "scale": {"domain": [-16.5, 89.5], "nice": false, "zero": false}, "axis": null}}},
 {"transform": [{"filter": "datum.k == 't'"}], "mark": {"type": "text", "text": "c", "font": "Liberation Sans", "fontSize": 22, "align": "center", "baseline": "alphabetic"}, "encoding": {"x": {"datum": 2.597, "type": "quantitative", "scale": {"domain": [2.5, 3.75], "nice": false, "zero": false}, "axis": null}, "y": {"datum": 76, "type": "quantitative", "scale": {"domain": [-16.5, 89.5], "nice": false, "zero": false}, "axis": null}}},
 {"transform": [{"filter": "datum.k == 't'"}], "mark": {"type": "rule", "color": "#ff0000", "strokeWidth": 2.5}, "encoding": {"x": {"datum": 2.215, "type": "quantitative", "scale": {"domain": [2.5, 3.75], "nice": false, "zero": false}, "axis": null}, "x2": {"datum": 2.331}, "y": {"datum": 40, "type": "quantitative", "scale": {"domain": [-16.5, 89.5], "nice": false, "zero": false}, "axis": null}}},
 {"transform": [{"filter": "datum.k == 't'"}], "mark": {"type": "rule", "color": "#000", "strokeWidth": 2.5}, "encoding": {"x": {"datum": 2.215, "type": "quantitative", "scale": {"domain": [2.5, 3.75], "nice": false, "zero": false}, "axis": null}, "x2": {"datum": 2.331}, "y": {"datum": 15, "type": "quantitative", "scale": {"domain": [-16.5, 89.5], "nice": false, "zero": false}, "axis": null}}},
 {"transform": [{"filter": "datum.k == 't'"}], "mark": {"type": "text", "text": "Ambient", "font": "Open Sans", "fontSize": 18, "align": "left", "baseline": "middle"}, "encoding": {"x": {"datum": 2.369, "type": "quantitative", "scale": {"domain": [2.5, 3.75], "nice": false, "zero": false}, "axis": null}, "y": {"datum": 40, "type": "quantitative", "scale": {"domain": [-16.5, 89.5], "nice": false, "zero": false}, "axis": null}}},
 {"transform": [{"filter": "datum.k == 't'"}], "mark": {"type": "text", "text": "10 eV", "font": "Open Sans", "fontSize": 18, "align": "left", "baseline": "middle"}, "encoding": {"x": {"datum": 2.369, "type": "quantitative", "scale": {"domain": [2.5, 3.75], "nice": false, "zero": false}, "axis": null}, "y": {"datum": 15, "type": "quantitative", "scale": {"domain": [-16.5, 89.5], "nice": false, "zero": false}, "axis": null}}}
]},
{"data": {"name": "A"}, "width": 346, "height": 106, "layer": [
 {"transform": [{"filter": "datum.k == 't'"}], "mark": {"type": "rule", "color": "#000", "strokeWidth": 1.3}, "encoding": {"x": {"datum": 1.35, "type": "quantitative", "scale": {"domain": [1.35, 2.05], "nice": false, "zero": false}, "axis": null}, "x2": {"datum": 2.05}, "y": {"datum": 0, "type": "quantitative", "scale": {"domain": [-16.5, 89.5], "nice": false, "zero": false}, "axis": null}}},
 {"transform": [{"filter": "datum.k == 'c' && isValid(datum.e15)"}], "mark": {"type": "line", "interpolate": "step", "color": "#000", "strokeWidth": 2}, "encoding": {"x": {"field": "x", "type": "quantitative", "scale": {"domain": [1.35, 2.05], "nice": false, "zero": false}, "axis": null}, "y": {"field": "e15", "type": "quantitative", "scale": {"domain": [-16.5, 89.5], "nice": false, "zero": false}, "axis": null}}},
 {"transform": [{"filter": "datum.k == 'c'"}], "mark": {"type": "line", "interpolate": "step", "color": "#ff0000", "strokeWidth": 2}, "encoding": {"x": {"field": "x", "type": "quantitative", "scale": {"domain": [1.35, 2.05], "nice": false, "zero": false}, "axis": null}, "y": {"field": "a", "type": "quantitative", "scale": {"domain": [-16.5, 89.5], "nice": false, "zero": false}, "axis": null}}},
 {"transform": [{"filter": "datum.k == 'd'"}], "mark": {"type": "line", "interpolate": "step", "color": "#555555", "strokeWidth": 1}, "encoding": {"x": {"field": "x", "type": "quantitative", "scale": {"domain": [1.35, 2.05], "nice": false, "zero": false}, "axis": null}, "y": {"field": "e15", "type": "quantitative", "scale": {"domain": [-16.5, 89.5], "nice": false, "zero": false}, "axis": null}}},
 {"transform": [{"filter": "datum.k == 't'"}], "mark": {"type": "text", "text": "15 eV", "font": "Open Sans", "fontSize": 18, "align": "right", "baseline": "middle"}, "encoding": {"x": {"datum": 2.127, "type": "quantitative", "scale": {"domain": [1.35, 2.05], "nice": false, "zero": false}, "axis": null}, "y": {"datum": 20, "type": "quantitative", "scale": {"domain": [-16.5, 89.5], "nice": false, "zero": false}, "axis": null}}}
]},
{"data": {"name": "B"}, "width": 348, "height": 106, "layer": [
 {"transform": [{"filter": "datum.k == 't'"}], "mark": {"type": "rule", "color": "#000", "strokeWidth": 1.3}, "encoding": {"x": {"datum": 55, "type": "quantitative", "scale": {"domain": [55, 165], "nice": false, "zero": false}, "axis": null}, "x2": {"datum": 165}, "y": {"datum": 0, "type": "quantitative", "scale": {"domain": [-16.5, 89.5], "nice": false, "zero": false}, "axis": null}}},
 {"transform": [{"filter": "datum.k == 'c' && isValid(datum.e15)"}], "mark": {"type": "line", "interpolate": "step", "color": "#000", "strokeWidth": 2}, "encoding": {"x": {"field": "x", "type": "quantitative", "scale": {"domain": [55, 165], "nice": false, "zero": false}, "axis": null}, "y": {"field": "e15", "type": "quantitative", "scale": {"domain": [-16.5, 89.5], "nice": false, "zero": false}, "axis": null}}},
 {"transform": [{"filter": "datum.k == 'c'"}], "mark": {"type": "line", "interpolate": "step", "color": "#ff0000", "strokeWidth": 2}, "encoding": {"x": {"field": "x", "type": "quantitative", "scale": {"domain": [55, 165], "nice": false, "zero": false}, "axis": null}, "y": {"field": "a", "type": "quantitative", "scale": {"domain": [-16.5, 89.5], "nice": false, "zero": false}, "axis": null}}},
 {"transform": [{"filter": "datum.k == 'd'"}], "mark": {"type": "line", "interpolate": "step", "color": "#555555", "strokeWidth": 1}, "encoding": {"x": {"field": "x", "type": "quantitative", "scale": {"domain": [55, 165], "nice": false, "zero": false}, "axis": null}, "y": {"field": "e15", "type": "quantitative", "scale": {"domain": [-16.5, 89.5], "nice": false, "zero": false}, "axis": null}}}
]},
{"data": {"name": "C"}, "width": 347, "height": 106, "layer": [
 {"transform": [{"filter": "datum.k == 't'"}], "mark": {"type": "rule", "color": "#000", "strokeWidth": 1.3}, "encoding": {"x": {"datum": 2.5, "type": "quantitative", "scale": {"domain": [2.5, 3.75], "nice": false, "zero": false}, "axis": null}, "x2": {"datum": 3.75}, "y": {"datum": 0, "type": "quantitative", "scale": {"domain": [-16.5, 89.5], "nice": false, "zero": false}, "axis": null}}},
 {"transform": [{"filter": "datum.k == 'c' && isValid(datum.e15)"}], "mark": {"type": "line", "interpolate": "step", "color": "#000", "strokeWidth": 2}, "encoding": {"x": {"field": "x", "type": "quantitative", "scale": {"domain": [2.5, 3.75], "nice": false, "zero": false}, "axis": null}, "y": {"field": "e15", "type": "quantitative", "scale": {"domain": [-16.5, 89.5], "nice": false, "zero": false}, "axis": null}}},
 {"transform": [{"filter": "datum.k == 'c'"}], "mark": {"type": "line", "interpolate": "step", "color": "#ff0000", "strokeWidth": 2}, "encoding": {"x": {"field": "x", "type": "quantitative", "scale": {"domain": [2.5, 3.75], "nice": false, "zero": false}, "axis": null}, "y": {"field": "a", "type": "quantitative", "scale": {"domain": [-16.5, 89.5], "nice": false, "zero": false}, "axis": null}}},
 {"transform": [{"filter": "datum.k == 'd'"}], "mark": {"type": "line", "interpolate": "step", "color": "#555555", "strokeWidth": 1}, "encoding": {"x": {"field": "x", "type": "quantitative", "scale": {"domain": [2.5, 3.75], "nice": false, "zero": false}, "axis": null}, "y": {"field": "e15", "type": "quantitative", "scale": {"domain": [-16.5, 89.5], "nice": false, "zero": false}, "axis": null}}},
 {"transform": [{"filter": "datum.k == 't'"}], "mark": {"type": "text", "text": "15 eV", "font": "Open Sans", "fontSize": 18, "align": "right", "baseline": "middle"}, "encoding": {"x": {"datum": 2.518, "type": "quantitative", "scale": {"domain": [2.5, 3.75], "nice": false, "zero": false}, "axis": null}, "y": {"datum": 20, "type": "quantitative", "scale": {"domain": [-16.5, 89.5], "nice": false, "zero": false}, "axis": null}}}
]},
{"data": {"name": "A"}, "width": 346, "height": 106, "layer": [
 {"transform": [{"filter": "datum.k == 't'"}], "mark": {"type": "rule", "color": "#000", "strokeWidth": 1.3}, "encoding": {"x": {"datum": 1.35, "type": "quantitative", "scale": {"domain": [1.35, 2.05], "nice": false, "zero": false}, "axis": null}, "x2": {"datum": 2.05}, "y": {"datum": 0, "type": "quantitative", "scale": {"domain": [-16.5, 89.5], "nice": false, "zero": false}, "axis": null}}},
 {"transform": [{"filter": "datum.k == 'c' && isValid(datum.e25)"}], "mark": {"type": "line", "interpolate": "step", "color": "#000", "strokeWidth": 2}, "encoding": {"x": {"field": "x", "type": "quantitative", "scale": {"domain": [1.35, 2.05], "nice": false, "zero": false}, "axis": null}, "y": {"field": "e25", "type": "quantitative", "scale": {"domain": [-16.5, 89.5], "nice": false, "zero": false}, "axis": null}}},
 {"transform": [{"filter": "datum.k == 'c'"}], "mark": {"type": "line", "interpolate": "step", "color": "#ff0000", "strokeWidth": 2}, "encoding": {"x": {"field": "x", "type": "quantitative", "scale": {"domain": [1.35, 2.05], "nice": false, "zero": false}, "axis": null}, "y": {"field": "a", "type": "quantitative", "scale": {"domain": [-16.5, 89.5], "nice": false, "zero": false}, "axis": null}}},
 {"transform": [{"filter": "datum.k == 'd'"}], "mark": {"type": "line", "interpolate": "step", "color": "#555555", "strokeWidth": 1}, "encoding": {"x": {"field": "x", "type": "quantitative", "scale": {"domain": [1.35, 2.05], "nice": false, "zero": false}, "axis": null}, "y": {"field": "e25", "type": "quantitative", "scale": {"domain": [-16.5, 89.5], "nice": false, "zero": false}, "axis": null}}},
 {"transform": [{"filter": "datum.k == 't'"}], "mark": {"type": "text", "text": "25 eV", "font": "Open Sans", "fontSize": 18, "align": "right", "baseline": "middle"}, "encoding": {"x": {"datum": 2.127, "type": "quantitative", "scale": {"domain": [1.35, 2.05], "nice": false, "zero": false}, "axis": null}, "y": {"datum": 24, "type": "quantitative", "scale": {"domain": [-16.5, 89.5], "nice": false, "zero": false}, "axis": null}}}
]},
{"data": {"name": "B"}, "width": 348, "height": 106, "layer": [
 {"transform": [{"filter": "datum.k == 't'"}], "mark": {"type": "rule", "color": "#000", "strokeWidth": 1.3}, "encoding": {"x": {"datum": 55, "type": "quantitative", "scale": {"domain": [55, 165], "nice": false, "zero": false}, "axis": null}, "x2": {"datum": 165}, "y": {"datum": 0, "type": "quantitative", "scale": {"domain": [-16.5, 89.5], "nice": false, "zero": false}, "axis": null}}},
 {"transform": [{"filter": "datum.k == 'c' && isValid(datum.e25)"}], "mark": {"type": "line", "interpolate": "step", "color": "#000", "strokeWidth": 2}, "encoding": {"x": {"field": "x", "type": "quantitative", "scale": {"domain": [55, 165], "nice": false, "zero": false}, "axis": null}, "y": {"field": "e25", "type": "quantitative", "scale": {"domain": [-16.5, 89.5], "nice": false, "zero": false}, "axis": null}}},
 {"transform": [{"filter": "datum.k == 'c'"}], "mark": {"type": "line", "interpolate": "step", "color": "#ff0000", "strokeWidth": 2}, "encoding": {"x": {"field": "x", "type": "quantitative", "scale": {"domain": [55, 165], "nice": false, "zero": false}, "axis": null}, "y": {"field": "a", "type": "quantitative", "scale": {"domain": [-16.5, 89.5], "nice": false, "zero": false}, "axis": null}}},
 {"transform": [{"filter": "datum.k == 'd'"}], "mark": {"type": "line", "interpolate": "step", "color": "#555555", "strokeWidth": 1}, "encoding": {"x": {"field": "x", "type": "quantitative", "scale": {"domain": [55, 165], "nice": false, "zero": false}, "axis": null}, "y": {"field": "e25", "type": "quantitative", "scale": {"domain": [-16.5, 89.5], "nice": false, "zero": false}, "axis": null}}}
]},
{"data": {"name": "C"}, "width": 347, "height": 106, "layer": [
 {"transform": [{"filter": "datum.k == 't'"}], "mark": {"type": "rule", "color": "#000", "strokeWidth": 1.3}, "encoding": {"x": {"datum": 2.5, "type": "quantitative", "scale": {"domain": [2.5, 3.75], "nice": false, "zero": false}, "axis": null}, "x2": {"datum": 3.75}, "y": {"datum": 0, "type": "quantitative", "scale": {"domain": [-16.5, 89.5], "nice": false, "zero": false}, "axis": null}}},
 {"transform": [{"filter": "datum.k == 'c' && isValid(datum.e25)"}], "mark": {"type": "line", "interpolate": "step", "color": "#000", "strokeWidth": 2}, "encoding": {"x": {"field": "x", "type": "quantitative", "scale": {"domain": [2.5, 3.75], "nice": false, "zero": false}, "axis": null}, "y": {"field": "e25", "type": "quantitative", "scale": {"domain": [-16.5, 89.5], "nice": false, "zero": false}, "axis": null}}},
 {"transform": [{"filter": "datum.k == 'c'"}], "mark": {"type": "line", "interpolate": "step", "color": "#ff0000", "strokeWidth": 2}, "encoding": {"x": {"field": "x", "type": "quantitative", "scale": {"domain": [2.5, 3.75], "nice": false, "zero": false}, "axis": null}, "y": {"field": "a", "type": "quantitative", "scale": {"domain": [-16.5, 89.5], "nice": false, "zero": false}, "axis": null}}},
 {"transform": [{"filter": "datum.k == 'd'"}], "mark": {"type": "line", "interpolate": "step", "color": "#555555", "strokeWidth": 1}, "encoding": {"x": {"field": "x", "type": "quantitative", "scale": {"domain": [2.5, 3.75], "nice": false, "zero": false}, "axis": null}, "y": {"field": "e25", "type": "quantitative", "scale": {"domain": [-16.5, 89.5], "nice": false, "zero": false}, "axis": null}}},
 {"transform": [{"filter": "datum.k == 't'"}], "mark": {"type": "text", "text": "25 eV", "font": "Open Sans", "fontSize": 18, "align": "right", "baseline": "middle"}, "encoding": {"x": {"datum": 2.518, "type": "quantitative", "scale": {"domain": [2.5, 3.75], "nice": false, "zero": false}, "axis": null}, "y": {"datum": 24, "type": "quantitative", "scale": {"domain": [-16.5, 89.5], "nice": false, "zero": false}, "axis": null}}}
]},
{"data": {"name": "A"}, "width": 346, "height": 106, "layer": [
 {"transform": [{"filter": "datum.k == 't'"}], "mark": {"type": "rule", "color": "#000", "strokeWidth": 1.3}, "encoding": {"x": {"datum": 1.35, "type": "quantitative", "scale": {"domain": [1.35, 2.05], "nice": false, "zero": false}, "axis": null}, "x2": {"datum": 2.05}, "y": {"datum": 0, "type": "quantitative", "scale": {"domain": [-16.5, 89.5], "nice": false, "zero": false}, "axis": null}}},
 {"transform": [{"filter": "datum.k == 'c' && isValid(datum.e50)"}], "mark": {"type": "line", "interpolate": "step", "color": "#000", "strokeWidth": 2}, "encoding": {"x": {"field": "x", "type": "quantitative", "scale": {"domain": [1.35, 2.05], "nice": false, "zero": false}, "axis": null}, "y": {"field": "e50", "type": "quantitative", "scale": {"domain": [-16.5, 89.5], "nice": false, "zero": false}, "axis": null}}},
 {"transform": [{"filter": "datum.k == 'c'"}], "mark": {"type": "line", "interpolate": "step", "color": "#ff0000", "strokeWidth": 2}, "encoding": {"x": {"field": "x", "type": "quantitative", "scale": {"domain": [1.35, 2.05], "nice": false, "zero": false}, "axis": null}, "y": {"field": "a", "type": "quantitative", "scale": {"domain": [-16.5, 89.5], "nice": false, "zero": false}, "axis": null}}},
 {"transform": [{"filter": "datum.k == 'd'"}], "mark": {"type": "line", "interpolate": "step", "color": "#555555", "strokeWidth": 1}, "encoding": {"x": {"field": "x", "type": "quantitative", "scale": {"domain": [1.35, 2.05], "nice": false, "zero": false}, "axis": null}, "y": {"field": "e50", "type": "quantitative", "scale": {"domain": [-16.5, 89.5], "nice": false, "zero": false}, "axis": null}}},
 {"transform": [{"filter": "datum.k == 't'"}], "mark": {"type": "text", "text": "50 eV", "font": "Open Sans", "fontSize": 18, "align": "right", "baseline": "middle"}, "encoding": {"x": {"datum": 2.127, "type": "quantitative", "scale": {"domain": [1.35, 2.05], "nice": false, "zero": false}, "axis": null}, "y": {"datum": 17, "type": "quantitative", "scale": {"domain": [-16.5, 89.5], "nice": false, "zero": false}, "axis": null}}}
]},
{"data": {"name": "B"}, "width": 348, "height": 106, "layer": [
 {"transform": [{"filter": "datum.k == 't'"}], "mark": {"type": "rule", "color": "#000", "strokeWidth": 1.3}, "encoding": {"x": {"datum": 55, "type": "quantitative", "scale": {"domain": [55, 165], "nice": false, "zero": false}, "axis": null}, "x2": {"datum": 165}, "y": {"datum": 0, "type": "quantitative", "scale": {"domain": [-16.5, 89.5], "nice": false, "zero": false}, "axis": null}}},
 {"transform": [{"filter": "datum.k == 'c' && isValid(datum.e50)"}], "mark": {"type": "line", "interpolate": "step", "color": "#000", "strokeWidth": 2}, "encoding": {"x": {"field": "x", "type": "quantitative", "scale": {"domain": [55, 165], "nice": false, "zero": false}, "axis": null}, "y": {"field": "e50", "type": "quantitative", "scale": {"domain": [-16.5, 89.5], "nice": false, "zero": false}, "axis": null}}},
 {"transform": [{"filter": "datum.k == 'c'"}], "mark": {"type": "line", "interpolate": "step", "color": "#ff0000", "strokeWidth": 2}, "encoding": {"x": {"field": "x", "type": "quantitative", "scale": {"domain": [55, 165], "nice": false, "zero": false}, "axis": null}, "y": {"field": "a", "type": "quantitative", "scale": {"domain": [-16.5, 89.5], "nice": false, "zero": false}, "axis": null}}},
 {"transform": [{"filter": "datum.k == 'd'"}], "mark": {"type": "line", "interpolate": "step", "color": "#555555", "strokeWidth": 1}, "encoding": {"x": {"field": "x", "type": "quantitative", "scale": {"domain": [55, 165], "nice": false, "zero": false}, "axis": null}, "y": {"field": "e50", "type": "quantitative", "scale": {"domain": [-16.5, 89.5], "nice": false, "zero": false}, "axis": null}}}
]},
{"data": {"name": "C"}, "width": 347, "height": 106, "layer": [
 {"transform": [{"filter": "datum.k == 't'"}], "mark": {"type": "rule", "color": "#000", "strokeWidth": 1.3}, "encoding": {"x": {"datum": 2.5, "type": "quantitative", "scale": {"domain": [2.5, 3.75], "nice": false, "zero": false}, "axis": null}, "x2": {"datum": 3.75}, "y": {"datum": 0, "type": "quantitative", "scale": {"domain": [-16.5, 89.5], "nice": false, "zero": false}, "axis": null}}},
 {"transform": [{"filter": "datum.k == 'c' && isValid(datum.e50)"}], "mark": {"type": "line", "interpolate": "step", "color": "#000", "strokeWidth": 2}, "encoding": {"x": {"field": "x", "type": "quantitative", "scale": {"domain": [2.5, 3.75], "nice": false, "zero": false}, "axis": null}, "y": {"field": "e50", "type": "quantitative", "scale": {"domain": [-16.5, 89.5], "nice": false, "zero": false}, "axis": null}}},
 {"transform": [{"filter": "datum.k == 'c'"}], "mark": {"type": "line", "interpolate": "step", "color": "#ff0000", "strokeWidth": 2}, "encoding": {"x": {"field": "x", "type": "quantitative", "scale": {"domain": [2.5, 3.75], "nice": false, "zero": false}, "axis": null}, "y": {"field": "a", "type": "quantitative", "scale": {"domain": [-16.5, 89.5], "nice": false, "zero": false}, "axis": null}}},
 {"transform": [{"filter": "datum.k == 'd'"}], "mark": {"type": "line", "interpolate": "step", "color": "#555555", "strokeWidth": 1}, "encoding": {"x": {"field": "x", "type": "quantitative", "scale": {"domain": [2.5, 3.75], "nice": false, "zero": false}, "axis": null}, "y": {"field": "e50", "type": "quantitative", "scale": {"domain": [-16.5, 89.5], "nice": false, "zero": false}, "axis": null}}},
 {"transform": [{"filter": "datum.k == 't'"}], "mark": {"type": "text", "text": "50 eV", "font": "Open Sans", "fontSize": 18, "align": "right", "baseline": "middle"}, "encoding": {"x": {"datum": 2.518, "type": "quantitative", "scale": {"domain": [2.5, 3.75], "nice": false, "zero": false}, "axis": null}, "y": {"datum": 17, "type": "quantitative", "scale": {"domain": [-16.5, 89.5], "nice": false, "zero": false}, "axis": null}}}
]},
{"data": {"name": "A"}, "width": 346, "height": 106, "resolve": {"axis": {"x": "independent"}}, "layer": [
 {"transform": [{"filter": "datum.k == 't'"}], "mark": {"type": "rule", "color": "#000", "strokeWidth": 1.3}, "encoding": {"x": {"datum": 1.35, "type": "quantitative", "scale": {"domain": [1.35, 2.05], "nice": false, "zero": false}, "axis": null}, "x2": {"datum": 2.05}, "y": {"datum": 0, "type": "quantitative", "scale": {"domain": [-16.5, 89.5], "nice": false, "zero": false}, "axis": null}}},
 {"transform": [{"filter": "datum.k == 'c' && isValid(datum.e100)"}], "mark": {"type": "line", "interpolate": "step", "color": "#000", "strokeWidth": 2}, "encoding": {"x": {"field": "x", "type": "quantitative", "scale": {"domain": [1.35, 2.05], "nice": false, "zero": false}, "axis": {"orient": "bottom", "title": "Si-O Distance (Å)", "values": [1.4,1.6,1.8,2.0], "format": ".1f", "tickSize": 7}}, "y": {"field": "e100", "type": "quantitative", "scale": {"domain": [-16.5, 89.5], "nice": false, "zero": false}, "axis": null}}},
 {"transform": [{"filter": "datum.k == 'c'"}], "mark": {"type": "line", "interpolate": "step", "color": "#ff0000", "strokeWidth": 2}, "encoding": {"x": {"field": "x", "type": "quantitative", "scale": {"domain": [1.35, 2.05], "nice": false, "zero": false}, "axis": null}, "y": {"field": "a", "type": "quantitative", "scale": {"domain": [-16.5, 89.5], "nice": false, "zero": false}, "axis": null}}},
 {"transform": [{"filter": "datum.k == 'd'"}], "mark": {"type": "line", "interpolate": "step", "color": "#555555", "strokeWidth": 1}, "encoding": {"x": {"field": "x", "type": "quantitative", "scale": {"domain": [1.35, 2.05], "nice": false, "zero": false}, "axis": {"orient": "bottom", "title": null, "values": [1.5,1.7,1.9], "labels": false, "domain": false, "tickSize": 4}}, "y": {"field": "e100", "type": "quantitative", "scale": {"domain": [-16.5, 89.5], "nice": false, "zero": false}, "axis": null}}},
 {"transform": [{"filter": "datum.k == 't'"}], "mark": {"type": "text", "text": "100 eV", "font": "Open Sans", "fontSize": 18, "align": "right", "baseline": "middle"}, "encoding": {"x": {"datum": 2.127, "type": "quantitative", "scale": {"domain": [1.35, 2.05], "nice": false, "zero": false}, "axis": null}, "y": {"datum": 22, "type": "quantitative", "scale": {"domain": [-16.5, 89.5], "nice": false, "zero": false}, "axis": null}}}
]},
{"data": {"name": "B"}, "width": 348, "height": 106, "resolve": {"axis": {"x": "independent"}}, "layer": [
 {"transform": [{"filter": "datum.k == 't'"}], "mark": {"type": "rule", "color": "#000", "strokeWidth": 1.3}, "encoding": {"x": {"datum": 55, "type": "quantitative", "scale": {"domain": [55, 165], "nice": false, "zero": false}, "axis": null}, "x2": {"datum": 165}, "y": {"datum": 0, "type": "quantitative", "scale": {"domain": [-16.5, 89.5], "nice": false, "zero": false}, "axis": null}}},
 {"transform": [{"filter": "datum.k == 'c' && isValid(datum.e100)"}], "mark": {"type": "line", "interpolate": "step", "color": "#000", "strokeWidth": 2}, "encoding": {"x": {"field": "x", "type": "quantitative", "scale": {"domain": [55, 165], "nice": false, "zero": false}, "axis": {"orient": "bottom", "title": "O-Si-O Angle (Degrees)", "values": [60,80,100,120,140,160], "tickSize": 7}}, "y": {"field": "e100", "type": "quantitative", "scale": {"domain": [-16.5, 89.5], "nice": false, "zero": false}, "axis": null}}},
 {"transform": [{"filter": "datum.k == 'c'"}], "mark": {"type": "line", "interpolate": "step", "color": "#ff0000", "strokeWidth": 2}, "encoding": {"x": {"field": "x", "type": "quantitative", "scale": {"domain": [55, 165], "nice": false, "zero": false}, "axis": null}, "y": {"field": "a", "type": "quantitative", "scale": {"domain": [-16.5, 89.5], "nice": false, "zero": false}, "axis": null}}},
 {"transform": [{"filter": "datum.k == 'd'"}], "mark": {"type": "line", "interpolate": "step", "color": "#555555", "strokeWidth": 1}, "encoding": {"x": {"field": "x", "type": "quantitative", "scale": {"domain": [55, 165], "nice": false, "zero": false}, "axis": {"orient": "bottom", "title": null, "values": [70,90,110,130,150], "labels": false, "domain": false, "tickSize": 4}}, "y": {"field": "e100", "type": "quantitative", "scale": {"domain": [-16.5, 89.5], "nice": false, "zero": false}, "axis": null}}}
]},
{"data": {"name": "C"}, "width": 347, "height": 106, "resolve": {"axis": {"x": "independent"}}, "layer": [
 {"transform": [{"filter": "datum.k == 't'"}], "mark": {"type": "rule", "color": "#000", "strokeWidth": 1.3}, "encoding": {"x": {"datum": 2.5, "type": "quantitative", "scale": {"domain": [2.5, 3.75], "nice": false, "zero": false}, "axis": null}, "x2": {"datum": 3.75}, "y": {"datum": 0, "type": "quantitative", "scale": {"domain": [-16.5, 89.5], "nice": false, "zero": false}, "axis": null}}},
 {"transform": [{"filter": "datum.k == 'c' && isValid(datum.e100)"}], "mark": {"type": "line", "interpolate": "step", "color": "#000", "strokeWidth": 2}, "encoding": {"x": {"field": "x", "type": "quantitative", "scale": {"domain": [2.5, 3.75], "nice": false, "zero": false}, "axis": {"orient": "bottom", "title": "Si-Si Distance (Å)", "values": [2.5,2.75,3.0,3.25,3.5,3.75], "format": ".2f", "tickSize": 7}}, "y": {"field": "e100", "type": "quantitative", "scale": {"domain": [-16.5, 89.5], "nice": false, "zero": false}, "axis": null}}},
 {"transform": [{"filter": "datum.k == 'c'"}], "mark": {"type": "line", "interpolate": "step", "color": "#ff0000", "strokeWidth": 2}, "encoding": {"x": {"field": "x", "type": "quantitative", "scale": {"domain": [2.5, 3.75], "nice": false, "zero": false}, "axis": null}, "y": {"field": "a", "type": "quantitative", "scale": {"domain": [-16.5, 89.5], "nice": false, "zero": false}, "axis": null}}},
 {"transform": [{"filter": "datum.k == 'd'"}], "mark": {"type": "line", "interpolate": "step", "color": "#555555", "strokeWidth": 1}, "encoding": {"x": {"field": "x", "type": "quantitative", "scale": {"domain": [2.5, 3.75], "nice": false, "zero": false}, "axis": {"orient": "bottom", "title": null, "values": [2.625,2.875,3.125,3.375,3.625], "labels": false, "domain": false, "tickSize": 4}}, "y": {"field": "e100", "type": "quantitative", "scale": {"domain": [-16.5, 89.5], "nice": false, "zero": false}, "axis": null}}},
 {"transform": [{"filter": "datum.k == 't'"}], "mark": {"type": "text", "text": "100 eV", "font": "Open Sans", "fontSize": 18, "align": "right", "baseline": "middle"}, "encoding": {"x": {"datum": 2.518, "type": "quantitative", "scale": {"domain": [2.5, 3.75], "nice": false, "zero": false}, "axis": null}, "y": {"datum": 22, "type": "quantitative", "scale": {"domain": [-16.5, 89.5], "nice": false, "zero": false}, "axis": null}}}
]}
]
}
